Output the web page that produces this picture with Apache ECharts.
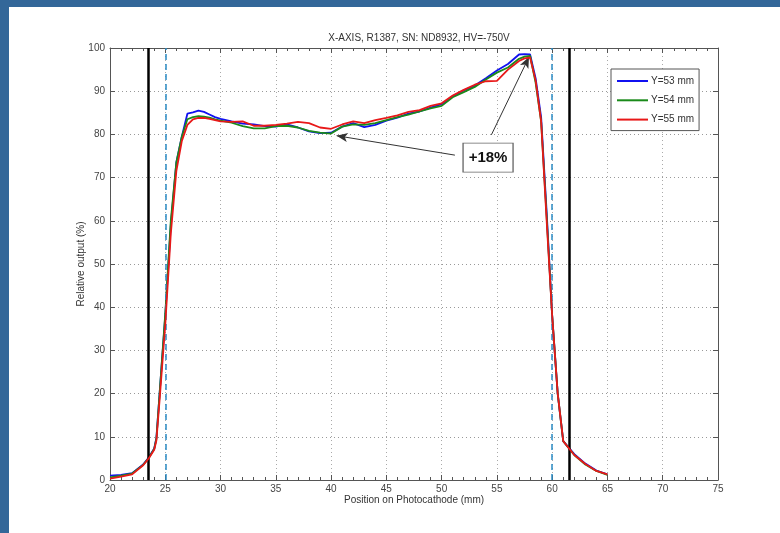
<!DOCTYPE html>
<html>
<head>
<meta charset="utf-8">
<script src="https://cdn.jsdelivr.net/npm/echarts@6/dist/echarts.min.js"></script>
<style>
  html, body { margin: 0; padding: 0; background: #fff; }
  #chart { width: 780px; height: 533px; }
</style>
</head>
<body>
<div id="chart"></div>
<script>
// Scan positions along the photocathode (mm)
const positions = [20, 21, 22, 23, 23.5, 24, 24.2, 24.5, 25, 25.5, 26, 26.5, 27, 27.5, 28, 28.5, 29, 29.5, 30,
  31, 32, 33, 34, 35, 36, 37, 38, 39, 40, 41, 42, 43, 44, 45, 46, 47, 48, 49, 50, 51, 52, 53, 54, 55, 56,
  57, 57.5, 58, 58.5, 59, 59.5, 60, 60.5, 61, 62, 63, 64, 65];

// Relative output (%) for each Y offset
const outY53 = [1.0, 1.2, 1.6, 3.6, 5.2, 7.3, 9.8, 20.5, 38, 59, 73.5, 79.5, 84.8, 85.1, 85.5, 85.2, 84.6, 84.0, 83.6,
  83.0, 82.5, 82.3, 81.9, 81.8, 82.3, 81.6, 80.7, 80.3, 80.4, 81.8, 82.6, 81.7, 82.2, 83.2, 83.9, 84.8, 85.3, 86.2, 87.0, 88.8, 90.2, 91.3, 93.0, 94.8, 96.3,
  98.5, 98.6, 98.5, 93, 84, 62, 38, 20, 9, 6.0, 3.8, 2.2, 1.3];
const outY54 = [0.6, 1.0, 1.5, 3.5, 5.1, 7.2, 9.6, 20.5, 38.5, 60, 73.5, 79.5, 83.5, 84.0, 84.2, 84.1, 83.9, 83.5, 83.2,
  82.7, 81.9, 81.4, 81.4, 81.9, 82.0, 81.6, 80.8, 80.4, 80.2, 81.8, 82.3, 82.2, 82.6, 83.3, 84.0, 84.6, 85.3, 86.0, 86.6, 88.6, 89.8, 91.0, 92.7, 94.3, 95.5,
  97.5, 98.0, 98.2, 92, 83, 61, 38, 20, 9, 5.8, 3.6, 2.1, 1.2];
const outY55 = [0.3, 0.8, 1.3, 3.4, 5.0, 7.0, 9.2, 19, 36, 57, 71.5, 78.5, 82.2, 83.5, 83.8, 83.8, 83.6, 83.3, 83.0,
  82.9, 83.0, 82.0, 82.0, 82.2, 82.5, 82.9, 82.6, 81.6, 81.3, 82.3, 83.0, 82.6, 83.3, 83.8, 84.4, 85.2, 85.6, 86.6, 87.2, 89.0, 90.3, 91.5, 92.3, 92.4, 95.0,
  97.0, 97.6, 97.8, 92.5, 83, 60, 38, 20, 9, 5.8, 3.7, 2.1, 1.3];

const seriesNames = ['Y=53 mm', 'Y=54 mm', 'Y=55 mm'];
const seriesColors = ['#1010f0', '#1a8a1a', '#e81818'];
const seriesValues = [outY53, outY54, outY55];

// Active-area limits (solid) and nominal edges (dashed), mm
const activeLimits = [23.5, 61.5];
const nominalEdges = [25, 60];

// "+18%" annotation: label anchor and arrow end points [x, y]
const noteText = '+18%';
const noteAnchor = [54.2, 74.6];
const arrowLow = [[51.2, 75.2], [40.5, 79.7]];
const arrowHigh = [[54.5, 79.9], [57.9, 97.9]];

const xTicks = { min: 20, max: 75, interval: 5 };
const yTicks = { min: 0, max: 100, interval: 10 };

const FONT = 'Liberation Sans, Arial, sans-serif';
const chart = echarts.init(document.getElementById('chart'), null, { renderer: 'canvas' });

const axisCommon = {
  axisLine: { show: true, onZero: false, lineStyle: { color: '#555', width: 1 } },
  axisTick: { show: true, inside: true, length: 5, lineStyle: { color: '#555' } },
  splitLine: { show: false }
};

const curves = seriesNames.map((name, i) => ({
  name,
  type: 'line',
  symbol: 'none',
  smooth: false,
  data: positions.map((p, k) => [p, seriesValues[i][k]]),
  lineStyle: { color: seriesColors[i], width: 1.8 },
  itemStyle: { color: seriesColors[i] },
  z: 3 + i
}));

// Vertical reference lines
const edgeLines = {
  name: 'edges',
  type: 'line',
  data: [],
  z: 10,
  silent: true,
  markLine: {
    silent: true,
    symbol: ['none', 'none'],
    label: { show: false },
    data: [
      ...activeLimits.map(v => ({ xAxis: v, lineStyle: { color: '#000', width: 2.5, type: 'solid' } })),
      ...nominalEdges.map(v => ({ xAxis: v, lineStyle: { color: '#2a8ac4', width: 1.5, type: [6, 4] } }))
    ]
  }
};

// Arrows and boxed note
const note = {
  name: 'note',
  type: 'line',
  data: [],
  z: 11,
  silent: true,
  markLine: {
    silent: true,
    symbol: ['none', 'arrow'],
    symbolSize: [7, 11],
    label: { show: false },
    lineStyle: { color: '#333', width: 1, type: 'solid' },
    data: [
      [{ coord: arrowLow[0] }, { coord: arrowLow[1] }],
      [{ coord: arrowHigh[0] }, { coord: arrowHigh[1] }]
    ]
  },
  markPoint: {
    silent: true,
    symbol: 'rect',
    symbolSize: [50, 29],
    itemStyle: { color: '#fff', borderColor: '#666', borderWidth: 1 },
    label: { show: true, position: 'inside', formatter: noteText, fontFamily: FONT, fontSize: 15, fontWeight: 'bold', color: '#111' },
    data: [{ coord: noteAnchor }]
  }
};

chart.setOption({
  animation: false,
  backgroundColor: '#fff',
  textStyle: { fontFamily: FONT },
  title: {
    text: 'X-AXIS, R1387, SN: ND8932, HV=-750V',
    left: 414,
    top: 28,
    textAlign: 'center',
    textStyle: { fontFamily: FONT, fontSize: 10, fontWeight: 'normal', color: '#333' }
  },
  graphic: [
    { type: 'rect', left: 0, top: 0, shape: { width: 780, height: 7 }, style: { fill: '#336799' }, z: 100 },
    { type: 'rect', left: 0, top: 0, shape: { width: 9, height: 533 }, style: { fill: '#336799' }, z: 100 }
  ],
  legend: {
    data: seriesNames.map(n => ({ name: n, icon: 'rect' })),
    orient: 'vertical',
    left: 611,
    top: 69,
    padding: [5, 5, 4, 6],
    itemGap: 5.3,
    itemWidth: 31,
    itemHeight: 2,
    backgroundColor: '#fff',
    borderColor: '#555',
    borderWidth: 1,
    textStyle: { fontFamily: FONT, fontSize: 10, color: '#333', lineHeight: 14, height: 14, padding: [0, 0, 0, -2] }
  },
  grid: { left: 110, right: 62, top: 48, bottom: 53, containLabel: false },
  xAxis: [
    {
      type: 'value', position: 'bottom', ...xTicks,
      ...axisCommon,
      minorTick: { show: true, splitNumber: 5, length: 3, lineStyle: { color: '#555' } },
      splitLine: { show: true, lineStyle: { color: '#aaa', type: [1, 3], width: 1 } },
      axisLabel: { fontFamily: FONT, fontSize: 10, color: '#444', margin: 4 },
      name: 'Position on Photocathode (mm)',
      nameLocation: 'middle',
      nameMoveOverlap: false,
      nameGap: 15,
      nameTextStyle: { fontFamily: FONT, fontSize: 10, color: '#333', verticalAlign: 'top' }
    },
    {
      type: 'value', position: 'top', ...xTicks,
      ...axisCommon,
      minorTick: { show: true, splitNumber: 5, length: 3, lineStyle: { color: '#555' } },
      axisLabel: { show: false }
    }
  ],
  yAxis: [
    {
      type: 'value', position: 'left', ...yTicks,
      ...axisCommon,
      splitLine: { show: true, lineStyle: { color: '#999', type: [1, 3], width: 1 } },
      axisLabel: { fontFamily: FONT, fontSize: 10, color: '#444', margin: 5 },
      name: 'Relative output (%)',
      nameLocation: 'middle',
      nameMoveOverlap: false,
      nameGap: 24,
      nameTextStyle: { fontFamily: FONT, fontSize: 10, color: '#333' }
    },
    {
      type: 'value', position: 'right', ...yTicks,
      ...axisCommon,
      axisLabel: { show: false }
    }
  ],
  series: [...curves, edgeLines, note]
});
</script>
</body>
</html>
